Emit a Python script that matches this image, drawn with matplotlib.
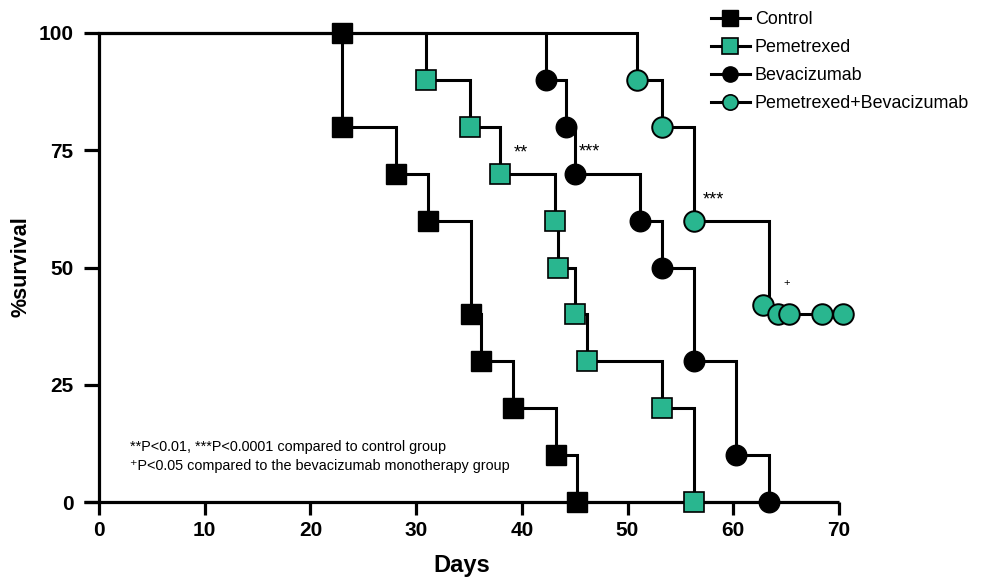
import matplotlib
matplotlib.use("Agg")
import matplotlib.pyplot as plt
from matplotlib.lines import Line2D

plt.rcParams['font.family'] = ['Liberation Sans', 'DejaVu Sans']

# ---- data ----
ctrl_t = [23.0, 28.1, 31.1, 35.2, 36.1, 39.2, 43.2, 45.2]
ctrl_s = [80, 70, 60, 40, 30, 20, 10, 0]
ctrl_start_t = [23.0]
ctrl_start_s = [100]

pem_t = [30.9, 35.1, 37.9, 43.1, 43.4, 45.0, 46.2, 53.3, 56.3]
pem_s = [90, 80, 70, 60, 50, 40, 30, 20, 0]

bev_t = [42.3, 44.2, 45.0, 51.2, 53.3, 56.3, 60.3, 63.4]
bev_s = [90, 80, 70, 60, 50, 30, 10, 0]

pb_t = [50.9, 53.3, 56.3, 63.4]
pb_s = [90, 80, 60, 40]
pb_end = 70.4
pb_mark_t = [50.9, 53.3, 56.3, 62.8, 64.2, 65.3, 68.4, 70.4]
pb_mark_s = [90, 80, 60, 42, 40, 40, 40, 40]

labels = ["Control", "Pemetrexed", "Bevacizumab", "Pemetrexed+Bevacizumab"]
x_ticks = [0, 10, 20, 30, 40, 50, 60, 70]
y_ticks = [0, 25, 50, 75, 100]

GREEN = '#29b68f'
LW = 2.2

fig = plt.figure(figsize=(9.86, 5.78), dpi=100)
x0_px, scale = 99.0, 10.57
xmin, xmax = -1.4, 72.0
left = (x0_px + xmin * scale) / 986
width = (xmax - xmin) * scale / 986
ax = fig.add_axes([left, (578 - 502) / 578, width, 469 / 578])
ax.set_xlim(xmin, xmax)
ax.set_ylim(0, 100)


def step_xy(t, s, end=None):
    xs = [0.0] + list(t)
    ys = [100] + list(s)
    if end is not None:
        xs.append(end)
        ys.append(ys[-1])
    return xs, ys


for t, s, end in [(ctrl_t, ctrl_s, None), (pem_t, pem_s, None),
                  (bev_t, bev_s, None), (pb_t, pb_s, pb_end)]:
    xs, ys = step_xy(t, s, end)
    ax.step(xs, ys, where='post', color='black', lw=LW, zorder=2,
            clip_on=False, solid_joinstyle='miter')

MS = 14.8
ax.plot(ctrl_t, ctrl_s, 's', ms=MS, color='black', mec='black', zorder=4, clip_on=False)
ax.plot(ctrl_start_t, ctrl_start_s, 's', ms=MS, color='black', mec='black', zorder=4, clip_on=False)
ax.plot(pem_t, pem_s, 's', ms=MS, mfc=GREEN, mec='black', mew=1.2, zorder=4, clip_on=False)
ax.plot(bev_t, bev_s, 'o', ms=MS, color='black', zorder=4, clip_on=False)
ax.plot(pb_mark_t, pb_mark_s, 'o', ms=MS, mfc=GREEN, mec='black', mew=1.4, zorder=4, clip_on=False)

# annotations
ax.text(39.9, 74.4, "**", ha='center', va='center', fontsize=13)
ax.text(46.4, 74.6, "***", ha='center', va='center', fontsize=13)
ax.text(58.1, 64.4, "***", ha='center', va='center', fontsize=13)
ax.text(65.1, 46.6, "+", ha='center', va='center', fontsize=8)
ax.text(2.9, 11.7, "**P<0.01, ***P<0.0001 compared to control group",
        ha='left', va='center', fontsize=10.4)
ax.text(2.9, 7.6, "\u207aP<0.05 compared to the bevacizumab monotherapy group",
        ha='left', va='center', fontsize=10.4)

# axes styling
for side in ['top', 'right']:
    ax.spines[side].set_visible(False)
ax.spines['left'].set_position(('data', 0))
ax.spines['left'].set_bounds(0, 100)
ax.spines['bottom'].set_bounds(xmin, 70)
for side in ['left', 'bottom']:
    ax.spines[side].set_linewidth(2.3)
    ax.spines[side].set_capstyle('butt')
ax.set_xticks(x_ticks)
ax.set_yticks(y_ticks)
ax.tick_params(axis='x', length=9.5, width=2.3, pad=4, labelsize=15)
ax.tick_params(axis='y', length=10.5, width=2.3, pad=8, labelsize=15)
for lab in ax.get_xticklabels() + ax.get_yticklabels():
    lab.set_fontweight('bold')
ax.set_xlabel("Days", fontsize=17, fontweight='bold')
ax.xaxis.set_label_coords((34.3 - xmin) / (xmax - xmin), -0.111)
ax.set_ylabel("%survival", fontsize=15.5, fontweight='bold')
ax.yaxis.set_label_coords(-0.0675, 0.501)

handles = [
    Line2D([], [], color='black', lw=LW, marker='s', ms=11, mfc='black', mec='black'),
    Line2D([], [], color='black', lw=LW, marker='s', ms=11, mfc=GREEN, mec='black', mew=1.2),
    Line2D([], [], color='black', lw=LW, marker='o', ms=11, mfc='black', mec='black'),
    Line2D([], [], color='black', lw=LW, marker='o', ms=11, mfc=GREEN, mec='black', mew=1.2),
]
fig.legend(handles, labels, loc='upper left', bbox_to_anchor=(711 / 986, 1 - 11 / 578),
           frameon=False, fontsize=12.9, handlelength=2.15, handletextpad=0.3,
           labelspacing=0.62, borderpad=0, borderaxespad=0)

fig.savefig("out.png", dpi=100)
